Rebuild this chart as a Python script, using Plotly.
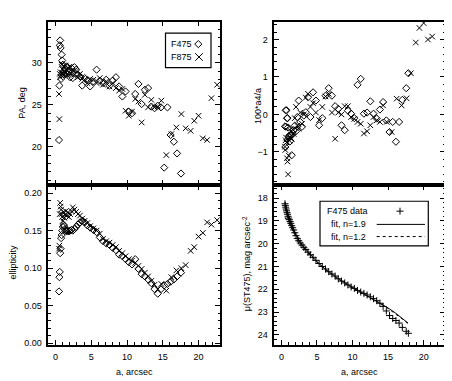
import plotly.graph_objects as go

# isophote fits, F475 (diamonds)
a_475 = [0.50, 0.55, 0.60, 0.66, 0.72, 0.79, 0.86, 0.94, 1.03, 1.12,
         1.22, 1.33, 1.45, 1.58, 1.72, 1.88, 2.05, 2.23, 2.43, 2.65,
         2.89, 3.15, 3.43, 3.74, 4.08, 4.45, 4.85, 5.30, 5.75, 6.20,
         6.65, 7.10, 7.55, 8.00, 8.45, 8.90, 9.35, 9.80, 10.25, 10.70,
         11.15, 11.60, 12.05, 12.50, 12.95, 13.40, 13.85, 14.30, 14.75, 15.20,
         15.65, 16.10, 16.55, 17.00, 17.55, 17.85]
pa_475 = [20.8, 27.3, 32.1, 32.7, 31.8, 28.1, 31.0, 30.3, 29.8, 29.0,
          28.6, 29.3, 28.8, 29.6, 28.7, 29.0, 28.3, 29.4, 28.2, 29.5,
          29.2, 28.6, 28.4, 27.3, 28.2, 27.9, 27.2, 27.8, 29.2, 27.9,
          27.6, 28.0, 27.3, 27.9, 28.3, 27.2, 26.0, 26.6, 24.2, 24.0,
          26.3, 27.5, 25.1, 26.8, 27.0, 24.8, 24.6, 24.9, 24.7, 17.5,
          24.7, 21.4, 20.6, 19.2, 16.8, None]
ell_475 = [0.069, 0.088, 0.095, 0.120, 0.126, 0.140, 0.144, 0.150, 0.155, 0.158,
           0.156, 0.152, 0.150, 0.149, 0.150, 0.149, 0.150, 0.151, 0.150, 0.152,
           0.155, 0.158, 0.161, 0.163, 0.161, 0.157, 0.154, 0.151, 0.148, 0.141,
           0.136, 0.133, 0.131, 0.127, 0.124, 0.118, 0.116, 0.112, 0.108, 0.105,
           0.112, 0.099, 0.092, 0.089, 0.085, 0.080, 0.072, 0.066, 0.072, 0.077,
           0.079, 0.082, 0.085, 0.089, 0.094, None]
a4_475 = [-0.32, -0.87, 0.11, -0.33, 0.11, -0.10, -0.10, -0.35, -0.60, -0.56,
          -0.72, -0.56, -1.09, -0.50, -0.42, -0.30, -0.45, -0.07, 0.37, -0.20,
          -0.33, -0.03, 0.06, 0.46, -0.07, 0.59, 0.37, -0.29, -0.10, 0.50,
          0.70, 0.50, 0.22, 0.15, -0.29, -0.42, 0.10, 0.02, -0.10, 0.79,
          0.95, 0.02, 0.05, 0.35, 0.02, -0.11, 0.13, 0.33, -0.16, -0.47,
          -0.20, -0.73, -0.20, 0.39, 0.70, 1.10]
mu_475 = [18.25, 18.32, 18.40, 18.48, 18.56, 18.64, 18.71, 18.80, 18.88, 18.95,
          19.03, 19.11, 19.21, 19.30, 19.40, 19.52, 19.65, 19.77, 19.87, 19.97,
          20.06, 20.16, 20.26, 20.37, 20.49, 20.60, 20.73, 20.87, 21.00, 21.11,
          21.23, 21.33, 21.42, 21.54, 21.64, 21.72, 21.81, 21.90, 21.96, 22.05,
          22.12, 22.18, 22.25, 22.33, 22.41, 22.50, 22.61, 22.75, 22.95, 23.15,
          23.28, 23.37, 23.48, 23.67, 23.84, 23.93]

# isophote fits, F875 (crosses)
a_875 = [0.50, 0.55, 0.60, 0.66, 0.72, 0.79, 0.86, 0.94, 1.03, 1.12,
         1.22, 1.33, 1.45, 1.58, 1.72, 1.88, 2.05, 2.23, 2.43, 2.65,
         2.89, 3.15, 3.43, 3.74, 4.08, 4.45, 4.85, 5.30, 5.75, 6.20,
         6.65, 7.10, 7.55, 8.00, 8.45, 8.90, 9.35, 9.80, 10.25, 10.70,
         11.15, 11.60, 12.05, 12.50, 12.95, 13.40, 13.85, 14.30, 14.80, 15.50,
         16.20, 16.90, 17.60, 18.20, 18.90, 19.40, 20.00, 20.60, 21.20, 21.80,
         22.60]
pa_875 = [26.3, 23.3, 28.7, 28.3, 28.9, 28.6, 29.8, 28.8, 29.2, 28.5,
          29.6, 28.9, 29.7, 28.6, 29.4, 28.9, 29.5, 28.7, 29.1, 28.6,
          29.0, 28.3, 28.7, 28.1, 28.0, 27.6, 28.1, 28.0, 27.6, 28.2,
          27.4, 27.8, 27.2, 27.6, 27.0, 26.7, 26.9, 24.3, 23.7, 24.2,
          25.7, 25.4, 22.9, 26.2, 24.7, 25.6, 24.7, 24.8, 25.5, 19.0,
          21.5, 22.3, 23.9, 22.2, 21.9, 23.1, 23.7, 21.0, 20.8, 25.8,
          27.4]
ell_875 = [0.126, 0.130, 0.172, 0.187, 0.182, 0.178, 0.172, 0.168, 0.163, 0.175,
           0.167, 0.171, 0.176, 0.170, 0.174, 0.168, 0.172, 0.176, 0.181, 0.178,
           0.175, 0.172, 0.170, 0.166, 0.163, 0.160, 0.156, 0.153, 0.150, 0.146,
           0.139, 0.136, 0.134, 0.131, 0.128, 0.123, 0.120, 0.116, 0.112, 0.110,
           0.107, 0.103, 0.099, 0.094, 0.089, 0.083, 0.078, 0.072, 0.079, 0.070,
           0.088, 0.097, 0.100, 0.104, 0.123, 0.128, 0.142, 0.147, 0.161, 0.158,
           0.164]
a4_875 = [-0.86, -0.95, -0.69, -0.62, -0.75, -1.17, -1.26, -1.60, -1.10, -0.70,
          -0.60, -0.45, -0.65, -0.40, -0.52, -0.10, 0.20, -0.30, -0.38, 0.05,
          -0.25, 0.00, 0.45, 0.55, 0.20, 0.30, 0.05, -0.15, 0.20, 0.48,
          0.55, 0.05, -0.65, 0.05, 0.00, 0.22, 0.22, -0.07, -0.12, -0.20,
          -0.25, -0.51, -0.45, -0.29, -0.07, -0.16, -0.20, 0.24, -0.20, -0.47,
          0.42, 0.24, 0.43, 1.10, 1.92, 2.31, 2.44, 2.00, 2.08, 2.70,
          2.90]

# Sersic fits to the F475 profile
a_fit = [0.5, 0.7, 1.0, 1.5, 2.0, 2.5, 3.0, 4.0, 5.0, 6.0, 7.0,
         8.0, 9.0, 10.0, 11.0, 12.0, 13.0, 14.0, 15.0, 16.0, 17.0, 17.8]
mu_n19 = [18.18, 18.50, 18.86, 19.27, 19.60, 19.88, 20.10, 20.47, 20.79, 21.07, 21.32,
          21.53, 21.73, 21.91, 22.08, 22.25, 22.43, 22.62, 22.82, 23.03, 23.27, 23.48]
mu_n12 = [18.85, 18.95, 19.12, 19.40, 19.66, 19.90, 20.12, 20.50, 20.82, 21.10, 21.35,
          21.56, 21.76, 21.94, 22.11, 22.28, 22.46, 22.64, 22.84, 23.06, 23.30, 23.50]

W, H = 452, 381
OFF = 8  # the page body margin shifts the figure by this much
FONT = dict(family='Liberation Sans, Arial, sans-serif', size=9, color='black')


def px(x):
    return (x - OFF) / W


def py(y):
    return 1 - (y - OFF) / H


def axis(rng, dtick, minor, domain, anchor, labels=True, fmt=None, ticks='inside', mirror='ticks'):
    d = dict(range=rng, domain=domain, anchor=anchor, dtick=dtick, tick0=0,
             ticks=ticks, ticklen=5, tickwidth=1, tickcolor='black',
             showline=True, linecolor='black', linewidth=1.5, mirror=mirror,
             showgrid=False, zeroline=False, showticklabels=labels,
             tickfont=FONT, ticklabelstandoff=3)
    if minor:
        d['minor'] = dict(dtick=minor, ticks='inside', ticklen=2.5, tickwidth=1,
                          tickcolor='black', showgrid=False)
    if fmt:
        d['tickformat'] = fmt
    return d


left = [px(48.3), px(220)]
right = [px(274.3), px(445)]
top = [py(186.7), py(21.7)]
bottom = [py(348.3), py(186.7)]

dmd = dict(symbol='diamond-open', size=5.5, color='black', line=dict(width=1, color='black'))
crs = dict(symbol='x-thin-open', size=5.5, color='black', line=dict(width=1, color='black'))
pls = dict(symbol='cross-thin-open', size=5, color='black', line=dict(width=1, color='black'))

fig = go.Figure()

# PA
fig.add_trace(go.Scatter(x=a_475, y=pa_475, mode='markers', marker=dmd, xaxis='x', yaxis='y'))
fig.add_trace(go.Scatter(x=a_875, y=pa_875, mode='markers', marker=crs, xaxis='x', yaxis='y'))
# a4
fig.add_trace(go.Scatter(x=a_475, y=a4_475, mode='markers', marker=dmd, xaxis='x2', yaxis='y2'))
fig.add_trace(go.Scatter(x=a_875, y=a4_875, mode='markers', marker=crs, xaxis='x2', yaxis='y2'))
# ellipticity
fig.add_trace(go.Scatter(x=a_475, y=ell_475, mode='markers', marker=dmd, xaxis='x3', yaxis='y3'))
fig.add_trace(go.Scatter(x=a_875, y=ell_875, mode='markers', marker=crs, xaxis='x3', yaxis='y3'))
# surface brightness
fig.add_trace(go.Scatter(x=a_fit, y=mu_n12, mode='lines', line=dict(color='black', width=1, dash='3px,3px'),
                         xaxis='x4', yaxis='y4'))
fig.add_trace(go.Scatter(x=a_fit, y=mu_n19, mode='lines', line=dict(color='black', width=1),
                         xaxis='x4', yaxis='y4'))
fig.add_trace(go.Scatter(x=a_475, y=mu_475, mode='markers', marker=pls, xaxis='x4', yaxis='y4'))

fig.update_layout(
    width=W, height=H, margin=dict(l=0, r=0, t=0, b=0),
    paper_bgcolor='white', plot_bgcolor='white', showlegend=False,
    font=FONT,
    xaxis=axis([-1, 23], 5, None, left, 'y', labels=False),
    yaxis=axis([15.45, 34.95], 5, 1, top, 'x'),
    xaxis2=axis([-1, 23], 5, None, right, 'y2', labels=False, ticks=''),
    yaxis2=axis([-1.88, 2.48], 1, 0.2, top, 'x2'),
    xaxis3=axis([-1, 23], 5, 1, left, 'y3'),
    yaxis3=axis([-0.002, 0.211], 0.05, 0.01, bottom, 'x3', fmt='.2f'),
    xaxis4=axis([-1, 23], 5, 1, right, 'y4'),
    yaxis4=axis([24.43, 17.42], 1, 0.2, bottom, 'x4'),
)

# axis titles
titles = [
    ('PA, deg', 21.7, 104, -90),
    ('100*a4/a', 258, 107, -90),
    ('ellipticity', 13.3, 265, -90),
    ('μ(ST475), mag arcsec<sup>-2</sup>', 247, 267, -90),
    ('a, arcsec', 134, 376, 0),
    ('a, arcsec', 359.5, 376, 0),
]
for text, x, y, ang in titles:
    fig.add_annotation(text=text, x=px(x), y=py(y), xref='paper', yref='paper',
                       showarrow=False, textangle=ang, font=FONT,
                       xanchor='center', yanchor='middle')

# legend boxes
box = dict(type='rect', xref='paper', yref='paper', line=dict(color='black', width=1.2))
fig.add_shape(x0=px(165.5), x1=px(211), y0=py(68.3), y1=py(33.3), **box)
fig.add_shape(x0=px(320), x1=px(428.3), y0=py(248.3), y1=py(203.3), **box)

legend_text = [('F475', 169, 44.5), ('F875', 169, 57.5),
               ('F475 data', 324.5, 213.3), ('fit, n=1.9', 328.5, 226.7), ('fit, n=1.2', 328.5, 239)]
for text, x, y in legend_text:
    fig.add_annotation(text=text, x=px(x), y=py(y), xref='paper', yref='paper',
                       showarrow=False, font=FONT, xanchor='left', yanchor='middle')

glyph = dict(xref='paper', yref='paper', line=dict(color='black', width=1))


def seg(x0, y0, x1, y1, dash='solid'):
    fig.add_shape(type='line', x0=px(x0), y0=py(y0), x1=px(x1), y1=py(y1),
                  xref='paper', yref='paper', line=dict(color='black', width=1, dash=dash))


# diamond
cx, cy, r = 198.3, 44.5, 3.6
fig.add_shape(type='path', path='M {} {} L {} {} L {} {} L {} {} Z'.format(
    px(cx - r), py(cy), px(cx), py(cy - r), px(cx + r), py(cy), px(cx), py(cy + r)), **glyph)
# cross
cx, cy, r = 199, 57.5, 3.8
seg(cx - r, cy - r, cx + r, cy + r)
seg(cx - r, cy + r, cx + r, cy - r)
# plus
cx, cy, r = 400, 213.3, 3.5
seg(cx - r, cy, cx + r, cy)
seg(cx, cy - r, cx, cy + r)
# line samples
seg(376.7, 226.7, 425, 226.7)
seg(376.7, 239, 425, 239, dash='3px,3px')

fig.write_html("out.html")
